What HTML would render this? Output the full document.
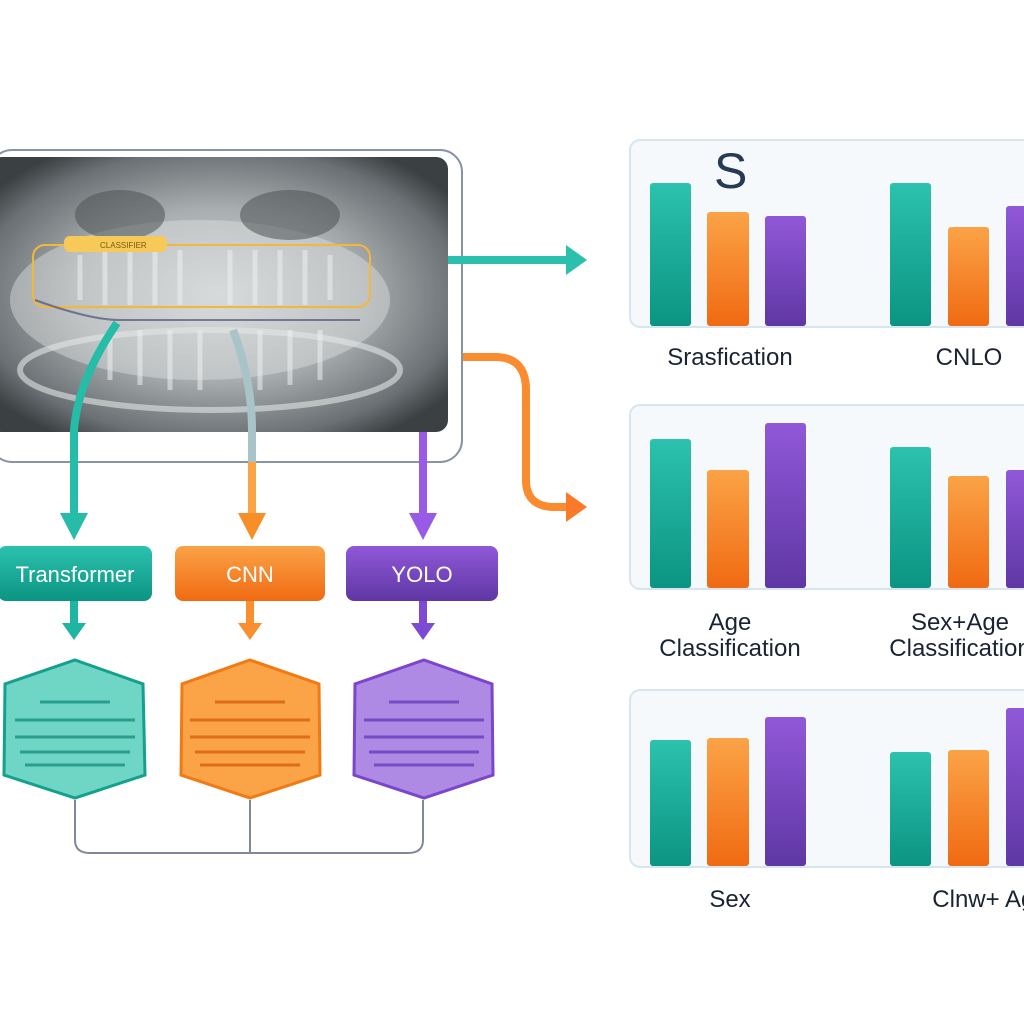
<!DOCTYPE html>
<html><head><meta charset="utf-8"><style>
html,body{margin:0;padding:0;background:#fff;width:1024px;height:1024px;overflow:hidden}
text{font-family:"Liberation Sans",sans-serif}
</style></head><body>
<svg width="1024" height="1024" viewBox="0 0 1024 1024" xmlns="http://www.w3.org/2000/svg">
<defs>
<radialGradient id="xr" cx="0.5" cy="0.5" r="0.62">
<stop offset="0" stop-color="#d2d6d7"/><stop offset="0.5" stop-color="#a9aeb0"/><stop offset="0.85" stop-color="#6a7073"/><stop offset="1" stop-color="#3b4042"/></radialGradient>
<linearGradient id="tg" x1="0" y1="0" x2="0" y2="1"><stop offset="0" stop-color="#2cc2ae"/><stop offset="1" stop-color="#0b9482"/></linearGradient>
<linearGradient id="og" x1="0" y1="0" x2="0" y2="1"><stop offset="0" stop-color="#fba347"/><stop offset="1" stop-color="#f06a12"/></linearGradient>
<linearGradient id="pg" x1="0" y1="0" x2="0" y2="1"><stop offset="0" stop-color="#9058d8"/><stop offset="1" stop-color="#5f37a4"/></linearGradient>
</defs>
<rect x="-10" y="150" width="472" height="312" rx="22" fill="#fff" stroke="#8794a4" stroke-width="2"/>
<rect x="-10" y="157" width="458" height="275" rx="12" fill="url(#xr)"/>
<ellipse cx="200" cy="300" rx="190" ry="80" fill="#dde0e1" opacity="0.45"/>
<ellipse cx="120" cy="215" rx="45" ry="25" fill="#4d5355" opacity="0.55"/>
<ellipse cx="290" cy="215" rx="50" ry="25" fill="#4d5355" opacity="0.55"/>
<ellipse cx="210" cy="370" rx="190" ry="40" fill="none" stroke="#e2e6e6" stroke-width="6" opacity="0.6"/>
<g stroke="#eef0f0" stroke-width="5" opacity="0.55">
<line x1="80" y1="255" x2="80" y2="300"/><line x1="105" y1="250" x2="105" y2="305"/><line x1="130" y1="250" x2="130" y2="305"/><line x1="155" y1="250" x2="155" y2="305"/><line x1="180" y1="250" x2="180" y2="305"/><line x1="230" y1="250" x2="230" y2="305"/><line x1="255" y1="250" x2="255" y2="305"/><line x1="280" y1="250" x2="280" y2="305"/><line x1="305" y1="250" x2="305" y2="305"/><line x1="330" y1="255" x2="330" y2="300"/>
<line x1="110" y1="330" x2="110" y2="380"/><line x1="140" y1="330" x2="140" y2="385"/><line x1="170" y1="330" x2="170" y2="390"/><line x1="200" y1="330" x2="200" y2="390"/><line x1="260" y1="330" x2="260" y2="390"/><line x1="290" y1="330" x2="290" y2="385"/><line x1="320" y1="330" x2="320" y2="380"/>
</g>
<rect x="33" y="245" width="337" height="62" rx="12" fill="none" stroke="#f3b73a" stroke-width="2"/>
<rect x="64" y="236" width="103" height="16" rx="6" fill="#f7c958"/>
<text x="100" y="248" font-size="8" fill="#7a5a10">CLASSIFIER</text>
<path d="M35 300 Q90 320 120 320 L360 320" fill="none" stroke="#3a3f6a" stroke-width="2" opacity="0.6"/>
<path d="M117 323 Q78 380 74 430 L74 518" fill="none" stroke="#25bca8" stroke-width="8"/>
<polygon points="60,513 88,513 74,540" fill="#25bca8"/>
<path d="M233 330 Q252 380 252 430 L252 518" fill="none" stroke="#a9c4c8" stroke-width="8"/>
<line x1="252" y1="462" x2="252" y2="518" stroke="#fba347" stroke-width="8"/>
<polygon points="238,513 266,513 252,540" fill="#f88e28"/>
<line x1="423" y1="432" x2="423" y2="518" stroke="#9a5ae8" stroke-width="8"/>
<polygon points="409,513 437,513 423,540" fill="#9a5ae8"/>
<line x1="448" y1="260" x2="570" y2="260" stroke="#2bbfae" stroke-width="8"/>
<polygon points="566,245 587,260 566,275" fill="#2bbfae"/>
<path d="M463 357 L495 357 Q526 357 526 390 L526 480 Q526 507 555 507 L570 507" fill="none" stroke="#fb8b2f" stroke-width="8"/>
<polygon points="566,492 587,507 566,522" fill="#fb7a2a"/>
<rect x="-2" y="546" width="154" height="55" rx="8" fill="url(#tg)"/>
<text x="75" y="582" font-size="22" fill="#fff" text-anchor="middle">Transformer</text>
<rect x="175" y="546" width="150" height="55" rx="8" fill="url(#og)"/>
<text x="250" y="582" font-size="22" fill="#fff" text-anchor="middle">CNN</text>
<rect x="346" y="546" width="152" height="55" rx="8" fill="url(#pg)"/>
<text x="422" y="582" font-size="22" fill="#fff" text-anchor="middle">YOLO</text>
<line x1="74" y1="601" x2="74" y2="628" stroke="#1fb5a3" stroke-width="8"/><polygon points="62,623 86,623 74,640" fill="#1fb5a3"/>
<line x1="250" y1="601" x2="250" y2="628" stroke="#f98f2e" stroke-width="8"/><polygon points="238,623 262,623 250,640" fill="#f98f2e"/>
<line x1="423" y1="601" x2="423" y2="628" stroke="#7d4ad4" stroke-width="8"/><polygon points="411,623 435,623 423,640" fill="#7d4ad4"/>
<g stroke-width="3">
<polygon points="75,660 143,684 145,775 75,798 4,775 5,684" fill="#6fd6c6" stroke="#159f8d"/>
<polygon points="250,660 319,684 320,775 250,798 181,775 182,684" fill="#fba347" stroke="#f07a14"/>
<polygon points="424,660 492,684 493,775 424,798 354,775 355,684" fill="#ae8ae4" stroke="#7b45cc"/>
</g>
<g stroke-width="3" opacity="0.8">
<g stroke="#1a8f80"><line x1="15" y1="720" x2="135" y2="720"/><line x1="15" y1="737" x2="135" y2="737"/><line x1="20" y1="752" x2="130" y2="752"/><line x1="25" y1="765" x2="125" y2="765"/><line x1="40" y1="702" x2="110" y2="702"/></g>
<g stroke="#d85f0e"><line x1="190" y1="720" x2="310" y2="720"/><line x1="190" y1="737" x2="310" y2="737"/><line x1="195" y1="752" x2="305" y2="752"/><line x1="200" y1="765" x2="300" y2="765"/><line x1="215" y1="702" x2="285" y2="702"/></g>
<g stroke="#6a3cbe"><line x1="364" y1="720" x2="484" y2="720"/><line x1="364" y1="737" x2="484" y2="737"/><line x1="369" y1="752" x2="479" y2="752"/><line x1="374" y1="765" x2="474" y2="765"/><line x1="389" y1="702" x2="459" y2="702"/></g>
</g>
<path d="M75 800 L75 840 Q75 853 90 853 L408 853 Q423 853 423 840 L423 800 M250 800 L250 853" fill="none" stroke="#7f8a98" stroke-width="2"/>
<g fill="#f6f9fb" stroke="#d7e6ee" stroke-width="2">
<rect x="630" y="140" width="420" height="187" rx="10"/>
<rect x="630" y="405" width="420" height="184" rx="10"/>
<rect x="630" y="690" width="420" height="177" rx="10"/>
</g>
<text x="714" y="188" font-size="50" fill="#263a56">S</text>
<g>
<rect x="650" y="183" width="41" height="143" rx="3" fill="url(#tg)"/>
<rect x="707" y="212" width="42" height="114" rx="3" fill="url(#og)"/>
<rect x="765" y="216" width="41" height="110" rx="3" fill="url(#pg)"/>
<rect x="890" y="183" width="41" height="143" rx="3" fill="url(#tg)"/>
<rect x="948" y="227" width="41" height="99" rx="3" fill="url(#og)"/>
<rect x="1006" y="206" width="41" height="120" rx="3" fill="url(#pg)"/>
<rect x="650" y="439" width="41" height="149" rx="3" fill="url(#tg)"/>
<rect x="707" y="470" width="42" height="118" rx="3" fill="url(#og)"/>
<rect x="765" y="423" width="41" height="165" rx="3" fill="url(#pg)"/>
<rect x="890" y="447" width="41" height="141" rx="3" fill="url(#tg)"/>
<rect x="948" y="476" width="41" height="112" rx="3" fill="url(#og)"/>
<rect x="1006" y="470" width="41" height="118" rx="3" fill="url(#pg)"/>
<rect x="650" y="740" width="41" height="126" rx="3" fill="url(#tg)"/>
<rect x="707" y="738" width="42" height="128" rx="3" fill="url(#og)"/>
<rect x="765" y="717" width="41" height="149" rx="3" fill="url(#pg)"/>
<rect x="890" y="752" width="41" height="114" rx="3" fill="url(#tg)"/>
<rect x="948" y="750" width="41" height="116" rx="3" fill="url(#og)"/>
<rect x="1006" y="708" width="41" height="158" rx="3" fill="url(#pg)"/>
</g>
<g font-size="24" fill="#1a2333" text-anchor="middle">
<text x="730" y="365">Srasfication</text>
<text x="969" y="365">CNLO</text>
<text x="730" y="630">Age</text>
<text x="730" y="656">Classification</text>
<text x="960" y="630">Sex+Age</text>
<text x="960" y="656">Classification</text>
<text x="730" y="907">Sex</text>
<text x="990" y="907">Clnw+ Age</text>
</g>
</svg>
</body></html>
